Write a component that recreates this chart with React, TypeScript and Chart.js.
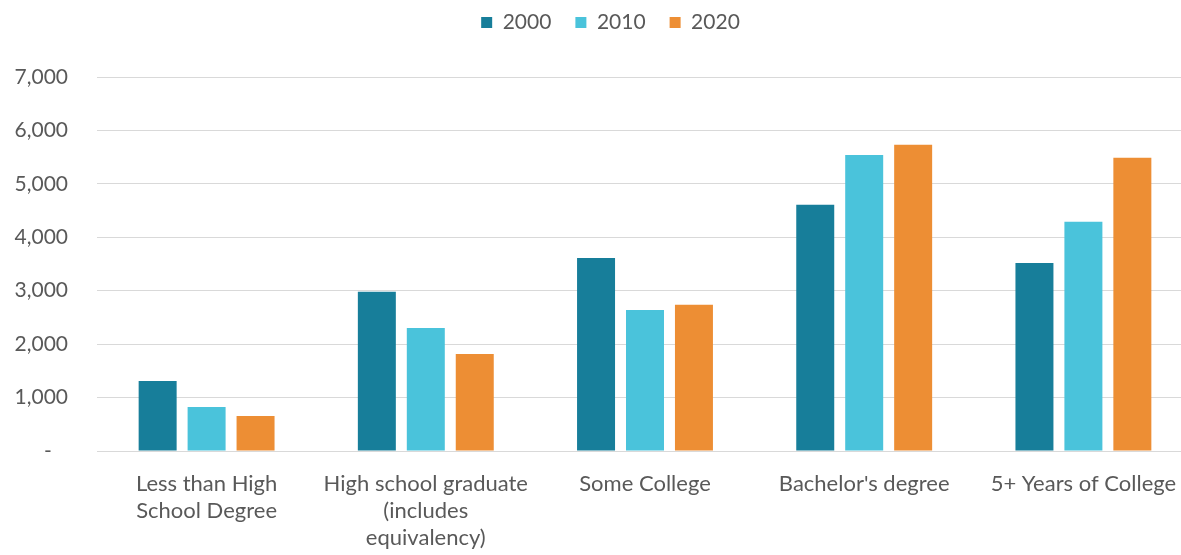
import React, { useEffect, useRef } from "react";
import { Chart, registerables } from "chart.js";

Chart.register(...registerables);

const categories: string[][] = [
  ["Less than High", "School Degree"],
  ["High school graduate", "(includes", "equivalency)"],
  ["Some College"],
  ["Bachelor's degree"],
  ["5+ Years of College"],
];
const seriesNames = ["2000", "2010", "2020"];
const values2000 = [1310, 2980, 3610, 4610, 3520];
const values2010 = [825, 2300, 2640, 5540, 4290];
const values2020 = [655, 1815, 2735, 5730, 5490];
const seriesColors = ["#177e9a", "#4ac3db", "#ed8e34"];

const FONT = "Lato, 'Open Sans', sans-serif";
const TEXT = "#595959";

export default function App() {
  const ref = useRef<HTMLCanvasElement | null>(null);
  useEffect(() => {
    if (!ref.current) return;
    const layoutPlugin = {
      id: "layoutTweaks",
      beforeInit(chart: any) {
        const lg = chart.legend;
        if (lg) {
          const fit = lg.fit;
          lg.fit = function () {
            fit.call(this);
            this.height += 22;
          };
        }
      },
      afterLayout(chart: any) {
        const lg = chart.legend;
        if (lg) {
          lg.top -= 12;
          lg.bottom -= 12;
          lg.left += 14;
          lg.right += 14;
        }
      },
    };
    const chart = new Chart(ref.current, {
      type: "bar",
      data: {
        labels: categories,
        datasets: [values2000, values2010, values2020].map((d, i) => ({
          label: seriesNames[i],
          data: d,
          backgroundColor: seriesColors[i],
          borderWidth: 0,
          categoryPercentage: 0.67,
          barPercentage: 0.776,
        })),
      },
      options: {
        animation: false,
        responsive: true,
        maintainAspectRatio: false,
        layout: { padding: 0 },
        plugins: {
          legend: {
            position: "top",
            labels: {
              boxWidth: 11,
              boxHeight: 11,
              padding: 24,
              color: TEXT,
              font: { family: FONT, size: 21 },
            },
          },
          tooltip: { enabled: false },
        },
        scales: {
          x: {
            grid: { display: false },
            border: { display: false },
            ticks: {
              color: TEXT,
              font: { family: FONT, size: 22, lineHeight: 1.23 },
              padding: 11,
              maxRotation: 0,
              autoSkip: false,
            },
            afterFit(scale: any) {
              scale.height = 104;
            },
          },
          y: {
            min: 0,
            max: 7000,
            grid: { color: "#d9d9d9", lineWidth: 1, drawTicks: false },
            border: { display: false },
            ticks: {
              stepSize: 1000,
              color: TEXT,
              padding: 29,
              font: { family: FONT, size: 21 },
              callback: (v: any) =>
                Number(v) === 0 ? "-   " : Number(v).toLocaleString("en-US"),
            },
            afterFit(scale: any) {
              scale.width = 97;
            },
          },
        },
      },
      plugins: [layoutPlugin],
    });
    return () => chart.destroy();
  }, []);
  return (
    <div
      style={{
        position: "absolute",
        left: 0,
        top: 0,
        width: 1181,
        height: 555,
        overflow: "hidden",
        background: "#fff",
      }}
    >
      <div style={{ position: "relative", width: 1193, height: 555 }}>
        <canvas ref={ref} />
      </div>
    </div>
  );
}
